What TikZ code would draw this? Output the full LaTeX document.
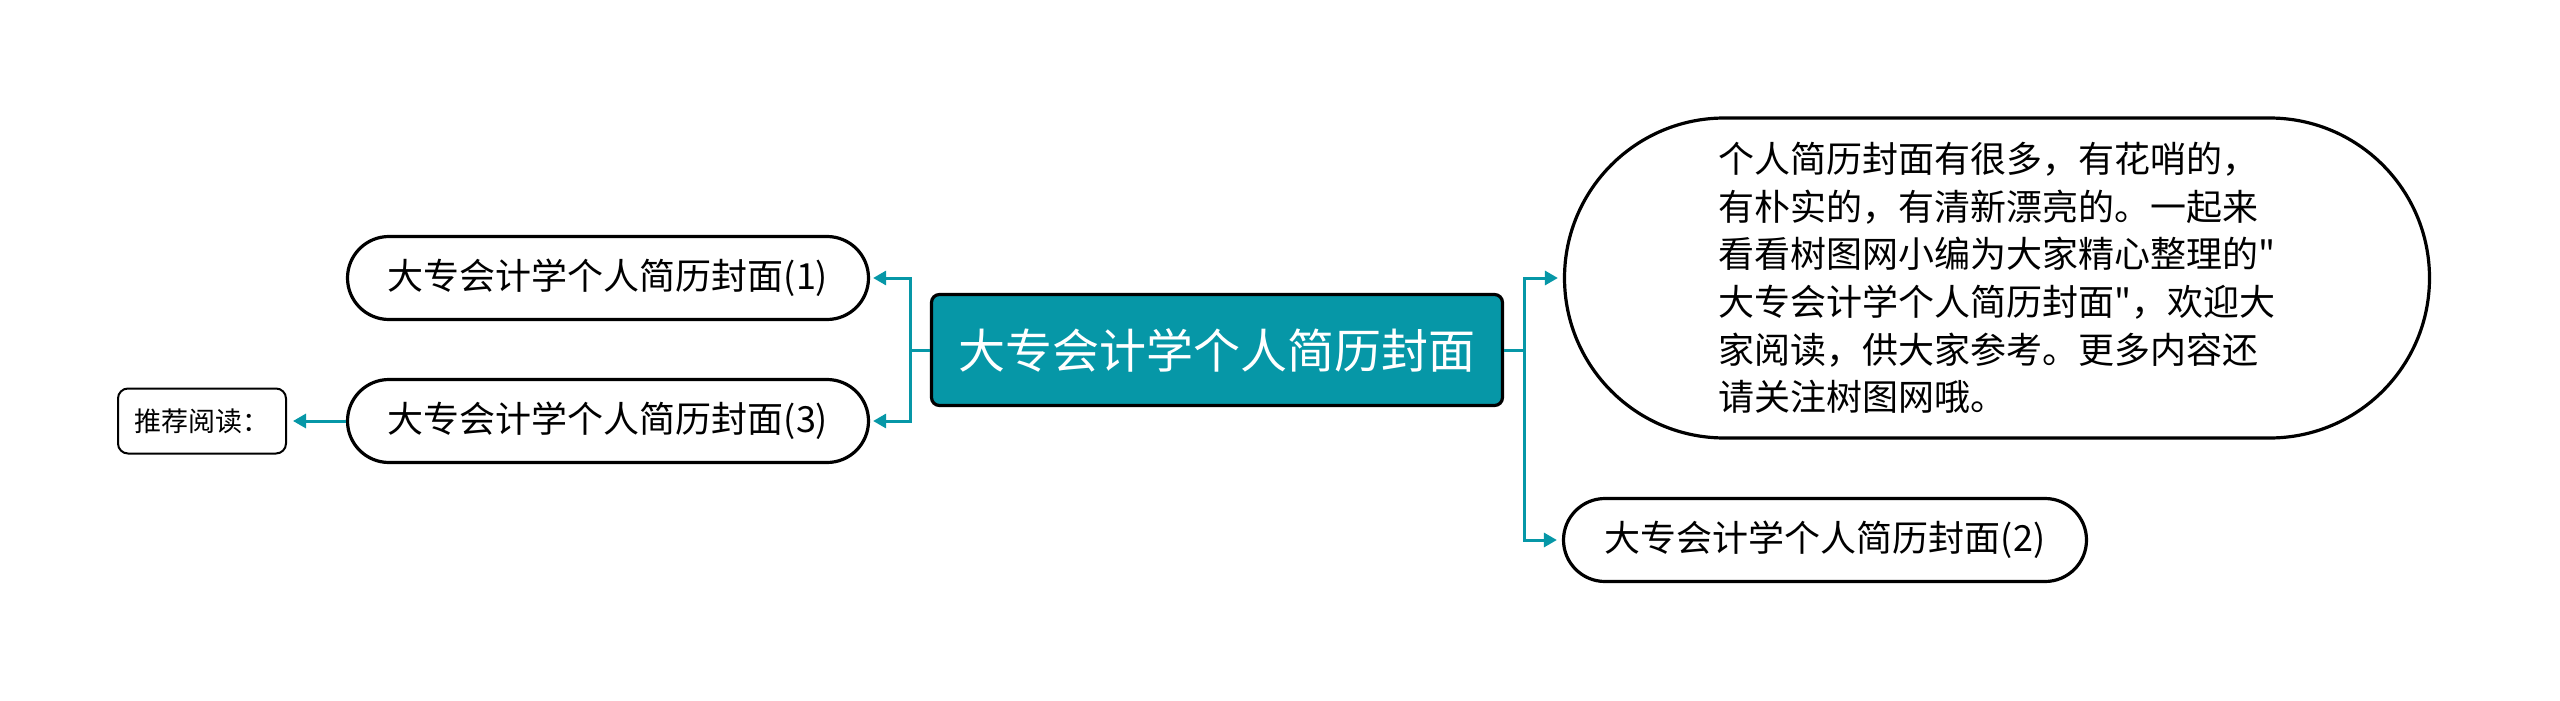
\documentclass[tikz,border=0pt]{standalone}
\usepackage{fontspec}
\usepackage{tikz}
\usetikzlibrary{arrows.meta, positioning}
\newfontfamily\cjk{Noto Sans CJK SC}
\definecolor{mapteal}{RGB}{6,151,167}

\begin{document}
\begin{tikzpicture}[x=0.5pt, y=-0.5pt,
	topic/.style={draw, line width=1.6pt, rounded corners=20.75pt, minimum width=260.5pt, minimum height=41.5pt, inner sep=0pt, font=\cjk\fontsize{18}{22}\selectfont},
	conn/.style={draw=mapteal, line width=1.5pt, -{Triangle[length=6.5pt, width=7pt]}}]
		\useasboundingbox (0,0) rectangle (2560,701);

		% Central box
		\node[draw, fill=mapteal, text=white, line width=1.6pt, rounded corners=4pt, minimum width=285.5pt, minimum height=55.5pt, font=\cjk\fontsize{23.5}{28}\selectfont] (root) at (1217,350) {大专会计学个人简历封面};

		% Left boxes
		\node[topic] (cover_one) at (608,278) {大专会计学个人简历封面(1)};
		\node[topic] (cover_three) at (608,421) {大专会计学个人简历封面(3)};
		\node[draw, line width=1pt, rounded corners=5pt, minimum width=84pt, minimum height=32.5pt, inner sep=0pt, font=\cjk\fontsize{13.5}{16}\selectfont] (reading) at (202,421) {推荐阅读：};

		% Right boxes
		\node[draw, line width=1.6pt, rounded corners=80pt, minimum width=432.5pt, minimum height=160pt, inner sep=0pt, align=left, font=\cjk\fontsize{18}{23.85}\selectfont] (summary) at (1997,278) {
				个人简历封面有很多，有花哨的，\\
				有朴实的，有清新漂亮的。一起来\\
				看看树图网小编为大家精心整理的"\\
				大专会计学个人简历封面"，欢迎大\\
				家阅读，供大家参考。更多内容还\\
				请关注树图网哦。
			};
		\node[topic, minimum width=261.5pt] (cover_two) at (1825,540) {大专会计学个人简历封面(2)};

		% Arrows
		\coordinate (split_left) at (910,350);
		\coordinate (split_right) at (1524,350);
		\draw[conn, shorten >=1.5pt] (root.west) -- (split_left) |- (cover_one.east);
		\draw[conn, shorten >=1.5pt] (root.west) -- (split_left) |- (cover_three.east);
		\draw[conn, shorten >=2.5pt] (root.east) -- (split_right) |- (summary.west);
		\draw[conn, shorten >=2.5pt] (root.east) -- (split_right) |- (cover_two.west);
		\draw[conn, shorten >=3pt] (cover_three.west) -- (reading.east);
	\end{tikzpicture}
\end{document}
